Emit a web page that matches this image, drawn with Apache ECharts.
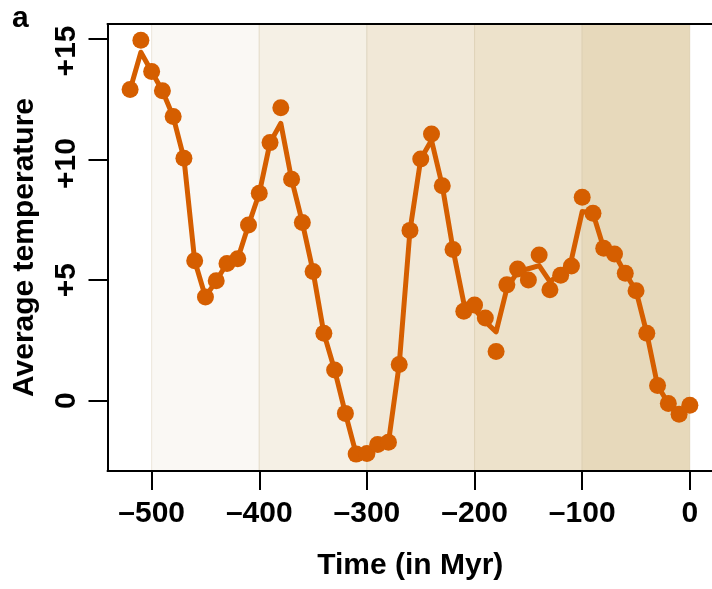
<!DOCTYPE html>
<html>
<head>
<meta charset="utf-8">
<script src="https://cdn.jsdelivr.net/npm/echarts@6/dist/echarts.min.js"></script>
<style>
html,body{margin:0;padding:0;background:#fff;}
#chart{width:712px;height:589px;}
</style>
</head>
<body>
<div id="chart"></div>
<script>
// Time (Myr) of each sample
const times = [-520,-510,-500,-490,-480,-470,-460,-450,-440,-430,
  -420,-410,-400,-390,-380,-370,-360,-350,-340,-330,
  -320,-310,-300,-290,-280,-270,-260,-250,-240,-230,
  -220,-210,-200,-190,-180,-170,-160,-150,-140,-130,
  -120,-110,-100,-90,-80,-70,-60,-50,-40,-30,
  -20,-10,0];
// Point estimates (dots)
const pointVals = [12.9,14.95,13.65,12.85,11.78,10.05,5.8,4.3,4.97,5.69,
  5.88,7.28,8.6,10.7,12.15,9.18,7.39,5.35,2.79,1.27,
  -0.53,-2.22,-2.19,-1.82,-1.73,1.5,7.06,10.02,11.06,8.91,
  6.27,3.71,3.96,3.43,2.04,4.8,5.46,5.0,6.04,4.6,
  5.2,5.58,8.43,7.77,6.32,6.08,5.28,4.56,2.79,0.63,
  -0.12,-0.57,-0.19];
// Connecting curve values
const lineVals = [12.9,14.45,13.65,12.85,11.78,10.05,5.8,4.3,4.97,5.69,
  5.88,7.28,8.6,10.7,11.5,9.18,7.39,5.35,2.79,1.27,
  -0.53,-2.22,-2.19,-1.82,-1.73,1.5,7.06,10.02,10.8,8.91,
  6.27,4.05,3.78,3.27,2.85,4.65,5.35,5.47,5.6,4.93,
  5.28,5.85,7.84,7.77,6.32,6.08,5.28,4.56,2.79,0.63,
  -0.12,-0.57,-0.19];
// Era bands
const bandEdges = [-500,-400,-300,-200,-100,0];
const bandColors = ['#faf8f4','#f5f0e5','#f1e8d7','#ede2cb','#e7d9bb'];
const xTicks = [-500,-400,-300,-200,-100,0];
const yTicks = [0,5,10,15];
const yTickLabels = ['0','+5','+10','+15'];

const FONT = '"Liberation Sans", Arial, Helvetica, sans-serif';
const ORANGE = '#D55E00';

const chart = echarts.init(document.getElementById('chart'), null, {renderer:'canvas'});

const bands = [];
for (let i = 0; i < bandColors.length; i++) {
  bands.push([{xAxis: bandEdges[i], itemStyle:{color: bandColors[i], borderColor:'rgba(190,170,130,0.25)', borderWidth:1}}, {xAxis: bandEdges[i+1]}]);
}

const X_MIN = -541, X_MAX = 21.5, Y_MIN = -2.92, Y_MAX = 15.62;

const option = {
  animation: false,
  backgroundColor: '#fff',
  textStyle: {fontFamily: FONT},
  grid: {left: 107.5, right: -1, top: 24, bottom: 118, outerBoundsMode: 'none', containLabel: false},
  graphic: [{
    type: 'text', left: 12, top: 4,
    style: {text: 'a', font: 'bold 30px ' + FONT, fill: '#000'}
  }],
  xAxis: [{
    type: 'value', min: X_MIN, max: X_MAX, z: 10,
    axisLine: {show: true, onZero: false, lineStyle: {color: '#000', width: 2}},
    axisTick: {show: true, length: 19, lineStyle: {color: '#000', width: 2}, customValues: xTicks},
    axisLabel: {show: true, margin: 28, color: '#000', fontSize: 30, fontWeight: 'bold', fontFamily: FONT,
      customValues: xTicks,
      formatter: v => (v < 0 ? '\u2013' + Math.abs(v) : String(v))},
    splitLine: {show: false},
    name: 'Time (in Myr)', nameLocation: 'middle', nameGap: 80,
    nameTextStyle: {color: '#000', fontSize: 30, fontWeight: 'bold', fontFamily: FONT}
  }, {
    type: 'value', position: 'top', min: X_MIN, max: X_MAX, z: 10,
    axisLine: {show: true, onZero: false, lineStyle: {color: '#000', width: 2}},
    axisTick: {show: false}, axisLabel: {show: false}, splitLine: {show: false}
  }],
  yAxis: [{
    type: 'value', min: Y_MIN, max: Y_MAX, z: 10,
    axisLine: {show: true, onZero: false, lineStyle: {color: '#000', width: 2}},
    axisTick: {show: true, length: 19, lineStyle: {color: '#000', width: 2}, customValues: yTicks},
    axisLabel: {show: true, rotate: 90, margin: 26, color: '#000', fontSize: 30, fontWeight: 'bold', fontFamily: FONT,
      customValues: yTicks,
      formatter: v => {
        const s = yTickLabels[yTicks.indexOf(v)];
        if (v === 15) return '{s15|' + s + '}';
        if (v === 10) return '{s10|' + s + '}';
        return s;
      },
      rich: {
        s15: {fontSize: 30, fontWeight: 'bold', fontFamily: FONT, color: '#000', padding: [0, 24, 0, 0]},
        s10: {fontSize: 30, fontWeight: 'bold', fontFamily: FONT, color: '#000', padding: [0, 8, 0, 0]}
      }},
    splitLine: {show: false},
    name: 'Average temperature', nameLocation: 'middle', nameGap: 68, nameRotate: 90,
    nameTextStyle: {color: '#000', fontSize: 30, fontWeight: 'bold', fontFamily: FONT}
  }, {
    type: 'value', position: 'right', min: Y_MIN, max: Y_MAX, z: 10,
    axisLine: {show: true, onZero: false, lineStyle: {color: '#000', width: 2}},
    axisTick: {show: false}, axisLabel: {show: false}, splitLine: {show: false}
  }],
  series: [{
    type: 'line', z: 1, data: [], silent: true,
    markArea: {silent: true, data: bands}
  }, {
    type: 'line', z: 3,
    data: times.map((t, i) => [t, lineVals[i]]),
    showSymbol: false, symbol: 'none',
    lineStyle: {color: ORANGE, width: 5, join: 'round'},
    itemStyle: {color: ORANGE}
  }, {
    type: 'scatter', z: 4,
    data: times.map((t, i) => [t, pointVals[i]]),
    symbol: 'circle', symbolSize: 17,
    itemStyle: {color: ORANGE, opacity: 1}
  }]
};
chart.setOption(option);
</script>
</body>
</html>
